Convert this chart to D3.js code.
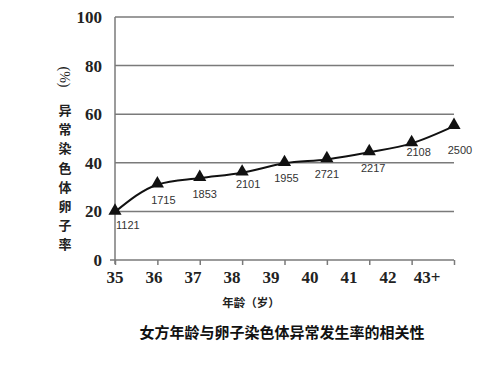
<!DOCTYPE html>
<html>
<head>
<meta charset="utf-8">
<script src="https://cdn.jsdelivr.net/npm/d3@7"></script>
<style>
  body { margin: 0; background: #fff; }
  svg { display: block; }
</style>
</head>
<body>
<svg id="chart" width="500" height="372"></svg>
<script>
// data
const ages = ['35', '36', '37', '38', '39', '40', '41', '42', '43+']
const rates = [19.8, 31, 33.7, 35.9, 39.8, 41.4, 44.3, 48, 55.1]
const counts = ['1121', '1715', '1853', '2101', '1955', '2721', '2217', '2108', '2500']
const yTicks = [0, 20, 40, 60, 80, 100]
const yTitleChars = ['异', '常', '染', '色', '体', '卵', '子', '率']

// label offsets relative to each point (dx, dy, anchor)
const countPos = [[1, 17, 'start'], [6, 19, 'middle'], [5, 20, 'middle'], [6, 15, 'middle'],
                  [2, 19, 'middle'], [0, 19, 'middle'], [4, 20, 'middle'], [7, 13, 'middle'], [6, 28, 'middle']]

const svg = d3.select('#chart')
const serif = '"Liberation Serif", "DejaVu Serif", serif'
const sans = '"Noto Sans CJK SC", "Noto Sans", sans-serif'

const x = d3.scalePoint().domain(ages).range([115, 454])
// the tick labels in the original sit on a tighter spacing than the points
const xLabel = d3.scalePoint().domain(ages).range([115, 427])
const y = d3.scaleLinear().domain([0, 100]).range([260, 17])

// horizontal grid
svg.append('g')
    .selectAll('line')
    .data(yTicks.filter(d => d > 0))
    .enter()
    .append('line')
    .attr('x1', 115).attr('x2', 454)
    .attr('y1', d => y(d)).attr('y2', d => y(d))
    .attr('stroke', '#7a7a7a')
    .attr('stroke-width', 1.5)

// y axis line + labels
svg.append('line')
    .attr('x1', 115).attr('x2', 115)
    .attr('y1', y(100)).attr('y2', y(0) + 4)
    .attr('stroke', '#7a7a7a').attr('stroke-width', 1.5)

svg.append('g')
    .selectAll('text')
    .data(yTicks)
    .enter()
    .append('text')
    .attr('x', 102)
    .attr('y', d => y(d) + 6)
    .attr('text-anchor', 'end')
    .style('font-family', serif)
    .style('font-weight', 'bold')
    .style('font-size', '17px')
    .attr('fill', '#222')
    .text(d => d)

// x axis with ticks
const xAxis = d3.axisBottom(x).tickSize(5).tickFormat('')
const gx = svg.append('g')
    .attr('transform', 'translate(0,' + y(0) + ')')
    .call(xAxis)
gx.select('.domain').attr('stroke', '#7a7a7a').attr('stroke-width', 1.5)
    .attr('d', 'M110,0H454')
gx.selectAll('.tick line').attr('stroke', '#7a7a7a').attr('stroke-width', 1.5)

svg.append('g')
    .selectAll('text')
    .data(ages)
    .enter()
    .append('text')
    .attr('x', d => xLabel(d))
    .attr('y', 283)
    .attr('text-anchor', 'middle')
    .style('font-family', serif)
    .style('font-weight', 'bold')
    .style('font-size', '17px')
    .attr('fill', '#222')
    .text(d => d)

// line
const line = d3.line()
    .x((d, i) => x(ages[i]))
    .y(d => y(d))
    .curve(d3.curveMonotoneX)

svg.append('path')
    .datum(rates)
    .attr('d', line)
    .attr('fill', 'none')
    .attr('stroke', '#111')
    .attr('stroke-width', 2)

// triangle markers
const tri = d3.symbol().type(d3.symbolTriangle).size(75)
svg.append('g')
    .selectAll('path')
    .data(rates)
    .enter()
    .append('path')
    .attr('d', tri)
    .attr('transform', (d, i) => 'translate(' + x(ages[i]) + ',' + (y(d) - 1) + ')')
    .attr('fill', '#111')

// sample counts
svg.append('g')
    .selectAll('text')
    .data(counts)
    .enter()
    .append('text')
    .attr('x', (d, i) => x(ages[i]) + countPos[i][0])
    .attr('y', (d, i) => y(rates[i]) + countPos[i][1])
    .attr('text-anchor', (d, i) => countPos[i][2])
    .style('font-family', '"Liberation Sans", Arial, sans-serif')
    .style('font-size', '11px')
    .attr('fill', '#333')
    .text(d => d)

// y title
svg.append('text')
    .attr('transform', 'translate(60,77) rotate(90)')
    .attr('text-anchor', 'middle')
    .style('font-family', serif)
    .style('font-size', '14px')
    .attr('fill', '#222')
    .text('(%)')

svg.append('g')
    .selectAll('text')
    .data(yTitleChars)
    .enter()
    .append('text')
    .attr('x', 65)
    .attr('y', (d, i) => 115 + i * 19.2)
    .attr('text-anchor', 'middle')
    .style('font-family', sans)
    .style('font-weight', 'bold')
    .style('font-size', '13px')
    .attr('fill', '#222')
    .text(d => d)

// x title
svg.append('text')
    .attr('x', 251)
    .attr('y', 307)
    .attr('text-anchor', 'middle')
    .style('font-family', sans)
    .style('font-weight', 'bold')
    .style('font-size', '11.5px')
    .attr('fill', '#222')
    .text('年龄（岁）')

// caption
svg.append('text')
    .attr('x', 282)
    .attr('y', 338)
    .attr('text-anchor', 'middle')
    .style('font-family', sans)
    .style('font-weight', 'bold')
    .style('font-size', '15px')
    .attr('fill', '#111')
    .text('女方年龄与卵子染色体异常发生率的相关性')
</script>
</body>
</html>
